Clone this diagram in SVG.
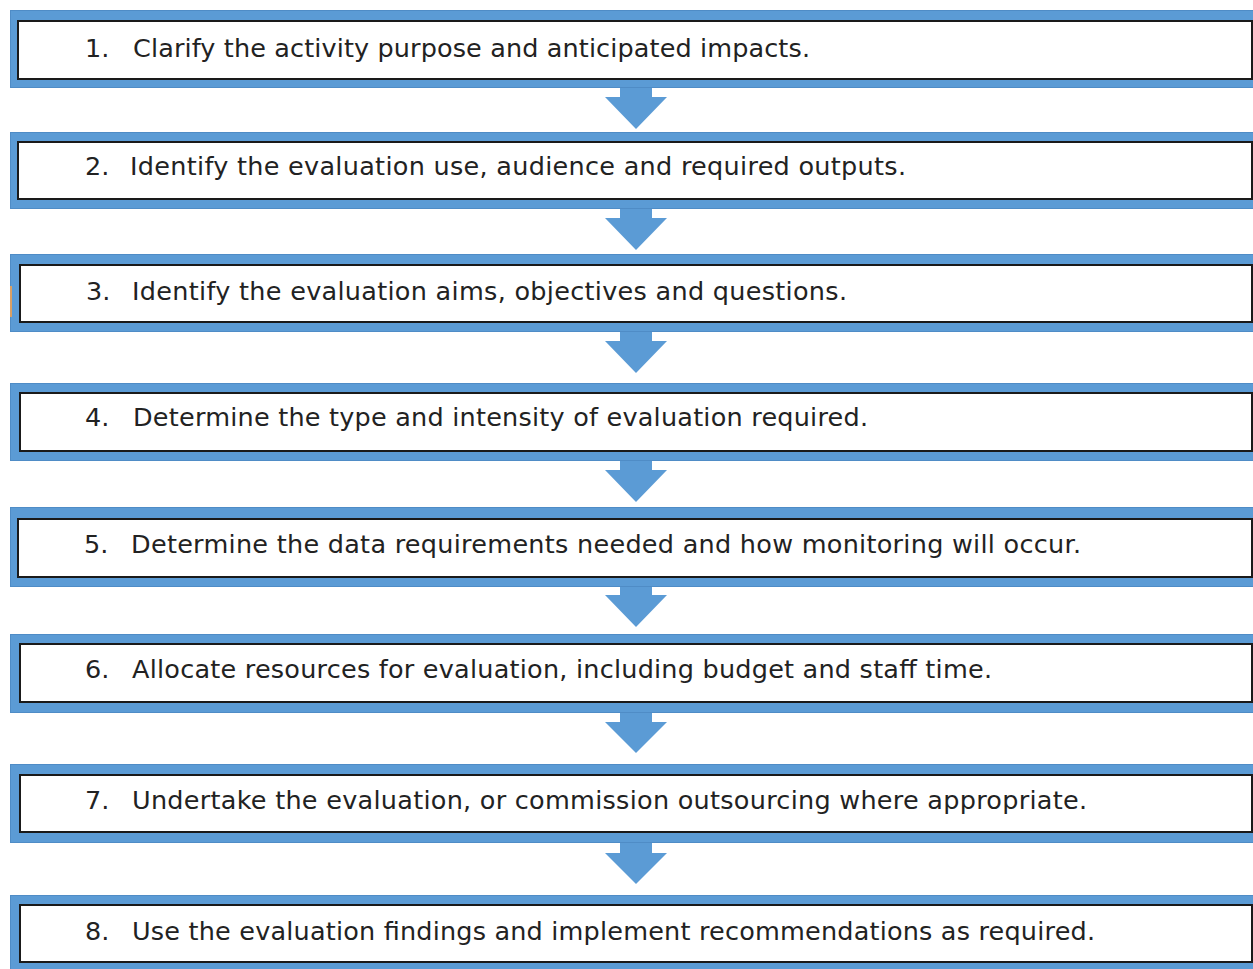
<svg xmlns="http://www.w3.org/2000/svg" width="1253" height="969" viewBox="0 0 1253 969">
<style>
.outer{fill:#5B9BD5;stroke:#4F8CC6;stroke-width:1}
.inner{fill:#FFFFFF;stroke:#1A1A1A;stroke-width:2}
.lbl{font-family:"DejaVu Sans","Liberation Sans",sans-serif;font-size:25.5px;fill:#222222}
.arrow{fill:#5B9BD5;stroke:none}
</style>
<rect width="1253" height="969" fill="#FFFFFF"/>
<g id="connectors">
<path class="arrow" d="M620,87 L652,87 L652,97 L667,97 L636,129 L605,97 L620,97 Z"/>
<path class="arrow" d="M620,208 L652,208 L652,218 L667,218 L636,250 L605,218 L620,218 Z"/>
<path class="arrow" d="M620,331 L652,331 L652,341 L667,341 L636,373 L605,341 L620,341 Z"/>
<path class="arrow" d="M620,460 L652,460 L652,470 L667,470 L636,502 L605,470 L620,470 Z"/>
<path class="arrow" d="M620,586 L652,586 L652,595 L667,595 L636,627 L605,595 L620,595 Z"/>
<path class="arrow" d="M620,712 L652,712 L652,722 L667,722 L636,753 L605,722 L620,722 Z"/>
<path class="arrow" d="M620,842 L652,842 L652,853 L667,853 L636,884 L605,853 L620,853 Z"/>
</g>
<g id="step1">
<rect class="outer" x="10.5" y="10.5" width="1250" height="77"/>
<rect class="inner" x="18" y="21" width="1234" height="58"/>
<text class="lbl" x="85" y="57">1.</text>
<text class="lbl" x="133" y="57" textLength="677" lengthAdjust="spacing">Clarify the activity purpose and anticipated impacts.</text>
</g>
<g id="step2">
<rect class="outer" x="10.5" y="132.5" width="1250" height="76"/>
<rect class="inner" x="18" y="142" width="1234" height="57"/>
<text class="lbl" x="85" y="175">2.</text>
<text class="lbl" x="130" y="175" textLength="776" lengthAdjust="spacing">Identify the evaluation use, audience and required outputs.</text>
</g>
<g id="step3">
<rect class="outer" x="10.5" y="254.5" width="1250" height="77"/>
<rect x="10" y="286" width="2" height="31" fill="#D9A066"/>
<rect class="inner" x="20" y="265" width="1232" height="57"/>
<text class="lbl" x="86" y="300">3.</text>
<text class="lbl" x="132" y="300" textLength="715" lengthAdjust="spacing">Identify the evaluation aims, objectives and questions.</text>
</g>
<g id="step4">
<rect class="outer" x="10.5" y="383.5" width="1250" height="77"/>
<rect class="inner" x="20" y="393" width="1232" height="58"/>
<text class="lbl" x="85" y="426">4.</text>
<text class="lbl" x="133" y="426" textLength="735" lengthAdjust="spacing">Determine the type and intensity of evaluation required.</text>
</g>
<g id="step5">
<rect class="outer" x="10.5" y="507.5" width="1250" height="79"/>
<rect class="inner" x="18" y="519" width="1234" height="58"/>
<text class="lbl" x="84" y="553">5.</text>
<text class="lbl" x="131" y="553" textLength="950" lengthAdjust="spacing">Determine the data requirements needed and how monitoring will occur.</text>
</g>
<g id="step6">
<rect class="outer" x="10.5" y="634.5" width="1250" height="78"/>
<rect class="inner" x="20" y="644" width="1232" height="58"/>
<text class="lbl" x="85" y="678">6.</text>
<text class="lbl" x="132" y="678" textLength="860" lengthAdjust="spacing">Allocate resources for evaluation, including budget and staff time.</text>
</g>
<g id="step7">
<rect class="outer" x="10.5" y="764.5" width="1250" height="78"/>
<rect class="inner" x="20" y="775" width="1232" height="57"/>
<text class="lbl" x="85" y="809">7.</text>
<text class="lbl" x="132" y="809" textLength="955" lengthAdjust="spacing">Undertake the evaluation, or commission outsourcing where appropriate.</text>
</g>
<g id="step8">
<rect class="outer" x="10.5" y="895.5" width="1250" height="80"/>
<rect class="inner" x="20" y="905" width="1232" height="57"/>
<text class="lbl" x="85" y="940">8.</text>
<text class="lbl" x="132" y="940" textLength="963" lengthAdjust="spacing">Use the evaluation findings and implement recommendations as required.</text>
</g>
</svg>
